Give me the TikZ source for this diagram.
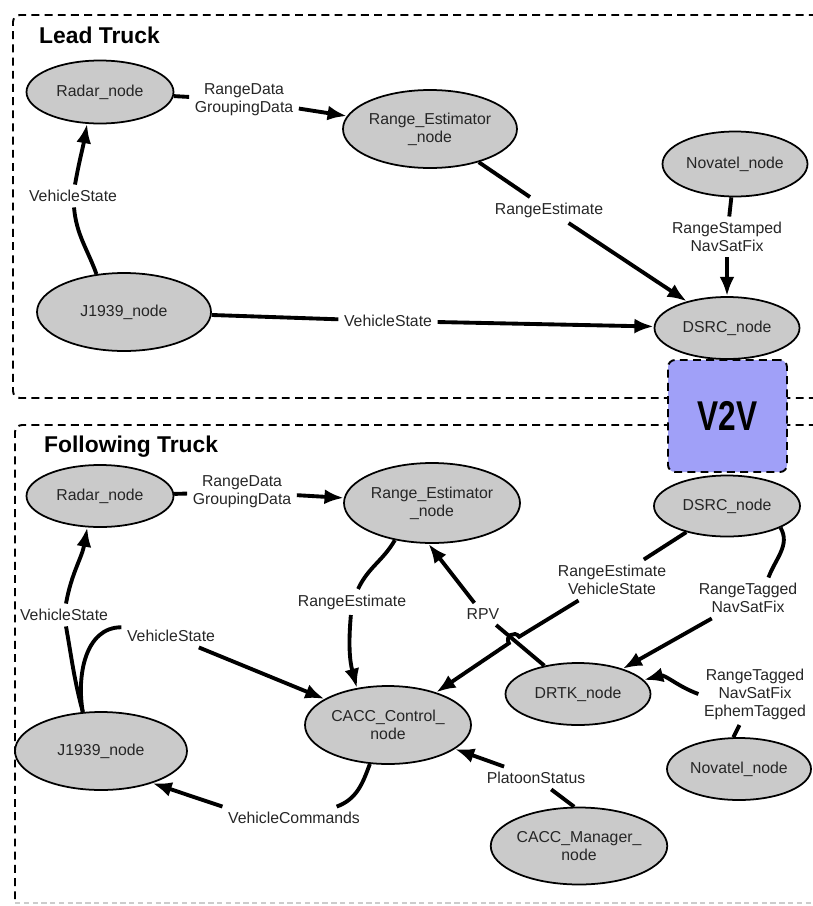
\documentclass[tikz,border=0pt]{standalone}
\usepackage{fontspec}
\setmainfont{Liberation Sans}
\usepackage{graphicx}
\usetikzlibrary{shapes.geometric,arrows.meta}

\definecolor{nodegray}{HTML}{CACACA}
\definecolor{vvblue}{HTML}{A0A0F8}

\tikzset{
  rosnode/.style={ellipse, draw=black, line width=1pt, fill=nodegray, inner sep=0pt,
    align=center, font=\fontsize{9}{10.3}\selectfont, text=black!85},
  ellsize/.style 2 args={minimum width=#1*0.02cm, minimum height=#2*0.02cm},
  topic/.style={inner sep=3pt, align=center, font=\fontsize{9}{10.3}\selectfont, text=black!85},
  pipe/.style={line width=2.2pt},
  feed/.style={pipe, -{Latex[length=11pt,width=8.5pt]}},
  truckbox/.style={line width=1.1pt, dash pattern=on 4.5pt off 3pt, rounded corners=4pt},
  boxtitle/.style={anchor=west, font=\fontsize{13}{15}\selectfont\bfseries},
}

\begin{document}
\begin{tikzpicture}[x=0.02cm,y=0.02cm]
  \useasboundingbox (0,0) rectangle (812,-906);

  % draw the truck boxes
  \draw[truckbox] (830,-15) -- (13,-15) -- (13,-398) -- (830,-398);
  \draw[truckbox] (830,-425) -- (15,-425) -- (15,-903);
  \draw[gray!40, line width=0.8pt, dash pattern=on 3pt off 2pt] (15,-903) -- (812,-903);
  \node[boxtitle] (leadtitle) at (33,-35) {Lead Truck};
  \node[boxtitle] (followtitle) at (38,-447) {Following Truck};

  % v2v link
  \node[truckbox, draw, fill=vvblue, inner sep=0pt, ellsize={119}{112}] (v2v) at (727.5,-416)
    {\fontsize{23.7}{25}\selectfont\bfseries\scalebox{0.76}[1]{V2V}};

  % lead truck nodes
  \node[rosnode, ellsize={147}{63}] (lradar) at (100,-92) {Radar\_node};
  \node[rosnode, ellsize={174}{78}] (lrange) at (430,-129) {Range\_Estimator\\\_node};
  \node[rosnode, ellsize={145}{65}] (lnov) at (735,-164) {Novatel\_node};
  \node[rosnode, ellsize={174}{78}] (lJ) at (124,-312) {J1939\_node};
  \node[rosnode, ellsize={145}{62}] (ldsrc) at (727,-328) {DSRC\_node};

  % lead truck topics
  \node[topic] (lrd) at (244,-100) {RangeData\\GroupingData};
  \node[topic] (lvs1) at (73,-196) {VehicleState};
  \node[topic] (lvs2) at (388,-321) {VehicleState};
  \node[topic] (lre) at (549,-210) {RangeEstimate};
  \node[topic] (lrs) at (727,-237) {RangeStamped\\NavSatFix};

  % lead truck connections
  \draw[pipe] (lradar) -- (lrd);
  \draw[feed] (lrd) -- (lrange);
  \draw[pipe] (lJ.126) to[out=110,in=-85] (lvs1);
  \draw[feed] (lvs1) to[out=80,in=-100] (lradar.-112);
  \draw[pipe] (lJ) -- (lvs2);
  \draw[feed] (lvs2) -- (ldsrc);
  \draw[pipe] (lrange) -- (lre);
  \draw[feed] (lre) -- (ldsrc);
  \draw[pipe] (lnov) -- (lrs);
  \draw[feed] (lrs) -- (ldsrc);

  % following truck nodes
  \node[rosnode, ellsize={147}{62}] (fradar) at (100,-496) {Radar\_node};
  \node[rosnode, ellsize={176}{80}] (frange) at (432,-503) {Range\_Estimator\\\_node};
  \node[rosnode, ellsize={146}{61}] (fdsrc) at (727,-506) {DSRC\_node};
  \node[rosnode, ellsize={166}{78}] (fcacc) at (388,-725) {CACC\_Control\_\\node};
  \node[rosnode, ellsize={145}{62}] (fdrtk) at (578,-694) {DRTK\_node};
  \node[rosnode, ellsize={144}{62}] (fnov) at (739,-769) {Novatel\_node};
  \node[rosnode, ellsize={172}{78}] (fJ) at (101,-751) {J1939\_node};
  \node[rosnode, ellsize={174}{77}] (fmgr) at (579,-846) {CACC\_Manager\_\\node};

  % following truck topics
  \node[topic] (frd) at (242,-492) {RangeData\\GroupingData};
  \node[topic] (fvs1) at (64,-615) {VehicleState};
  \node[topic] (fvs2) at (171,-636) {VehicleState};
  \node[topic] (fre) at (352,-602) {RangeEstimate};
  \node[topic] (frpv) at (483,-614) {RPV};
  \node[topic] (frv) at (612,-580) {RangeEstimate\\VehicleState};
  \node[topic] (frt) at (748,-598) {RangeTagged\\NavSatFix};
  \node[topic] (fre3) at (755,-694) {RangeTagged\\NavSatFix\\EphemTagged};
  \node[topic] (fps) at (536,-778) {PlatoonStatus};
  \node[topic] (fvc) at (294,-818) {VehicleCommands};

  % hop over the RPV line
  \coordinate (hopa) at (519.1,-636.8);
  \coordinate (hopb) at (508.9,-643.2);

  % following truck connections
  \draw[pipe] (fradar) -- (frd);
  \draw[feed] (frd) -- (frange);
  \draw[pipe] (fJ.115) to[out=105,in=-80] (fvs1);
  \draw[feed] (fvs1) to[out=80,in=-100] (fradar.-112);
  \draw[pipe] (fJ.115) to[out=100,in=180] (fvs2.170);
  \draw[feed] (fvs2) -- (fcacc);
  \draw[pipe] (frange.-135) to[out=-120,in=65] (fre);
  \draw[feed] (fre) to[out=-95,in=105] (fcacc.130);
  \draw[pipe] (fdrtk) -- (frpv);
  \draw[feed] (frpv) -- (frange.-95);
  \draw[pipe] (fdsrc) -- (frv);
  \draw[feed] (frv) -- (hopa) .. controls +(-4.3,6.7) and +(-4.3,6.7) .. (hopb) -- (fcacc);
  \draw[pipe] (fdsrc.-22) to[out=-60,in=70] (frt.45);
  \draw[feed] (frt) -- (fdrtk);
  \draw[pipe] (fnov.100) -- (fre3);
  \draw[feed] (fre3.west) to[out=160,in=15] (fdrtk.12);
  \draw[pipe] (fmgr.97) -- (fps);
  \draw[feed] (fps) -- (fcacc);
  \draw[pipe] (fcacc.-115) to[out=-110,in=20] (fvc.15);
  \draw[feed] (fvc.north west) -- (fJ.-32);
\end{tikzpicture}
\end{document}
